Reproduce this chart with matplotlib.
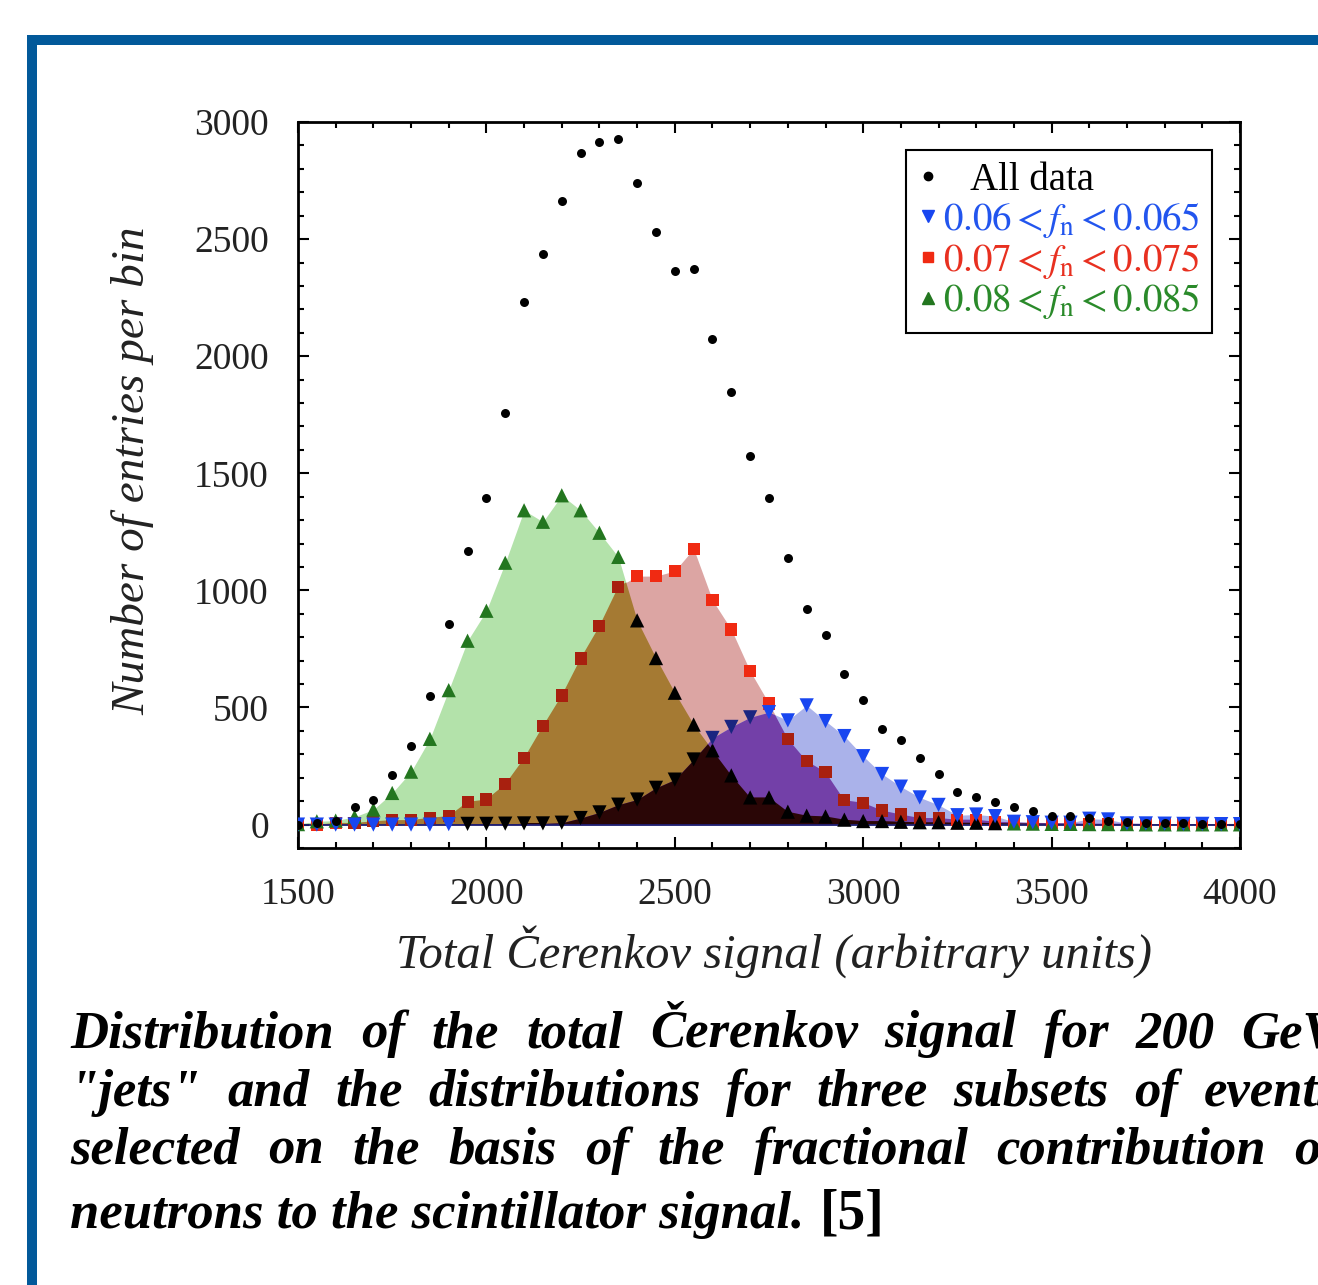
import numpy as np
import matplotlib
matplotlib.use('Agg')
import matplotlib.pyplot as plt
from matplotlib.lines import Line2D
from matplotlib.patches import Rectangle
from matplotlib.ticker import MultipleLocator

plt.rcParams['font.family'] = 'serif'
plt.rcParams['font.serif'] = ['Liberation Serif', 'DejaVu Serif']
plt.rcParams['mathtext.fontset'] = 'stix'

# bin centres of the total Cerenkov signal
signal = list(range(1500, 4001, 50))

all_data = [0, 5, 15, 73, 104, 210, 336, 547, 858, 1170,
            1393, 1759, 2232, 2436, 2664, 2866, 2913, 2926, 2739, 2531,
            2365, 2372, 2073, 1849, 1573, 1393, 1137, 922, 808, 641,
            534, 409, 360, 283, 214, 138, 118, 97, 77, 58,
            36, 36, 30, 15, 10, 8, 6, 5, 4, 3, 3]
# 0.06 < fn < 0.065
blue = [0, 0, 0, 0, 0, 0, 0, 0, 2, 3,
        3, 4, 5, 5, 8, 28, 52, 85, 107, 157,
        192, 278, 370, 417, 458, 480, 445, 509, 442, 378,
        292, 216, 162, 116, 84, 40, 43, 36, 12, 10,
        8, 8, 25, 22, 5, 5, 4, 3, 3, 2, 2]
# 0.07 < fn < 0.075
red = [3, 0, 7, 7, 14, 19, 19, 29, 36, 97,
       107, 172, 283, 420, 551, 709, 847, 1015, 1061, 1061,
       1083, 1178, 958, 833, 655, 517, 366, 271, 224, 104,
       93, 60, 43, 28, 28, 21, 21, 12, 10, 8,
       6, 5, 4, 4, 4, 3, 3, 3, 2, 2, 2]
# 0.08 < fn < 0.085
green = [2, 14, 17, 33, 64, 135, 226, 366, 574, 785,
         913, 1118, 1342, 1293, 1406, 1342, 1246, 1143, 872, 711,
         563, 427, 317, 210, 116, 116, 55, 38, 35, 21,
         15, 15, 12, 10, 10, 8, 8, 6, 5, 4,
         3, 3, 2, 2, 2, 1, 1, 1, 1, 1, 1]

labels = ['   All data',
          r'$0.06 < f_{\rm n} < 0.065$',
          r'$0.07 < f_{\rm n} < 0.075$',
          r'$0.08 < f_{\rm n} < 0.085$']

caption = ['Distribution of the total Čerenkov signal for 200 GeV',
           '"jets" and the distributions for three subsets of events',
           'selected on the basis of the fractional contribution of',
           'neutrons to the scintillator signal.']

W, H = 1318, 1285
fig = plt.figure(figsize=(W / 100, H / 100), dpi=100)
ax = fig.add_axes([298 / W, 1 - 848 / H, 942 / W, 726 / H])

x = np.array(signal)
b = np.array(blue)
r = np.array(red)
g = np.array(green)

# single fills
fg = ax.fill_between(x, 0, g, color='#b3e2aa', lw=0, zorder=1)
fr = ax.fill_between(x, 0, r, color='#dca5a3', lw=0, zorder=1)
fb = ax.fill_between(x, 0, b, color='#aab2ea', lw=0, zorder=1)
red_path = fr.get_paths()[0]
green_path = fg.get_paths()[0]

# overlaps
brown = ax.fill_between(x, 0, g, color='#a57a33', lw=0, zorder=2)
brown.set_clip_path(red_path, ax.transData)
purple = ax.fill_between(x, 0, b, color='#7340a8', lw=0, zorder=2)
purple.set_clip_path(red_path, ax.transData)
dark = ax.fill_between(x, 0, b, color='#2a0606', lw=0, zorder=3)
dark.set_clip_path(green_path, ax.transData)

ax.axhline(0, color='#1c1c70', lw=1.3, zorder=4)

# marker colours: darker where the point sits inside another fill
T = 25
red_c = ['#a8200f' if (gg > rr + T or bb > rr + T) else '#f02a12'
         for rr, gg, bb in zip(r, g, b)]
green_c = ['#000000' if (rr > gg + T or bb > gg + T) else '#23761f'
           for rr, gg, bb in zip(r, g, b)]
blue_c = []
for rr, gg, bb in zip(r, g, b):
    if rr > bb + 40:
        blue_c.append('#000000' if gg > bb + 40 else '#1a2580')
    else:
        blue_c.append('#1846f0')

ax.scatter(x, r, marker='s', s=76, c=red_c, lw=0, zorder=5)
ax.scatter(x, g, marker='^', s=105, c=green_c, lw=0, zorder=6)
ax.scatter(x, b, marker='v', s=105, c=blue_c, lw=0, zorder=7)
ax.scatter(x, all_data, marker='o', s=42, c='black', lw=0, zorder=8)

ax.set_xlim(1500, 4000)
ax.set_ylim(-100, 3000)
ax.set_xticks([1500, 2000, 2500, 3000, 3500, 4000])
ax.set_yticks([0, 500, 1000, 1500, 2000, 2500, 3000])
ax.xaxis.set_minor_locator(MultipleLocator(100))
ax.yaxis.set_minor_locator(MultipleLocator(100))
ax.tick_params(which='both', direction='in', top=True, right=True,
               width=1.5, colors='black', labelcolor='#222222')
ax.tick_params(which='major', length=8, labelsize=27, pad=21)
ax.tick_params(which='minor', length=4.5)
for sp in ax.spines.values():
    sp.set_linewidth(2)

ax.set_ylabel('Number of entries per bin', fontsize=34, style='italic',
              color='#222222')
ax.yaxis.set_label_coords(-0.152, 0.52)
ax.set_xlabel('Total Čerenkov signal (arbitrary units)', fontsize=35,
              style='italic', color='#222222')
ax.xaxis.set_label_coords(0.505, -0.106)

handles = [
    Line2D([], [], ls='', marker='o', color='black', ms=6),
    Line2D([], [], ls='', marker='v', color='#1846f0', ms=8),
    Line2D([], [], ls='', marker='s', color='#f02a12', ms=7),
    Line2D([], [], ls='', marker='^', color='#23761f', ms=8),
]
leg = ax.legend(handles, labels, loc='upper right',
                bbox_to_anchor=(0.970, 0.961), fontsize=28,
                frameon=True, fancybox=False, framealpha=1,
                edgecolor='black', handlelength=0.5, handletextpad=0.15,
                labelspacing=0.02, borderpad=0.3, borderaxespad=0)
leg.get_frame().set_linewidth(1.5)
for t, c in zip(leg.get_texts(), ['black', '#2255ee', '#e83020', '#2a8a2a']):
    t.set_color(c)

# blue frame of the slide
fig.add_artist(Rectangle((27 / W, 1 - 45 / H), 1, 10 / H,
                         transform=fig.transFigure, color='#02599a', lw=0))
fig.add_artist(Rectangle((27 / W, 0), 10 / W, 1 - 35 / H,
                         transform=fig.transFigure, color='#02599a', lw=0))

# justified caption, running past the right edge as in the slide
renderer = fig.canvas.get_renderer()
cap_kw = dict(fontsize=38, style='italic', weight='bold', va='baseline',
              ha='left', color='black')
baselines = [1047, 1106, 1164, 1228]
x0, x1 = 70, 1338
for line, yb in zip(caption[:3], baselines[:3]):
    words = line.split()
    texts = [fig.text(0, 1 - yb / H, w_, **cap_kw) for w_ in words]
    widths = [t.get_window_extent(renderer).width for t in texts]
    gap = (x1 - x0 - sum(widths)) / (len(words) - 1)
    xpos = x0
    for t, wd in zip(texts, widths):
        t.set_x(xpos / W)
        xpos += wd + gap
last = fig.text(x0 / W, 1 - baselines[3] / H, caption[3], **cap_kw)
lw_ = last.get_window_extent(renderer).width
fig.text((x0 + lw_ + 16) / W, 1 - baselines[3] / H, '[5]', fontsize=40,
         weight='bold', va='baseline', ha='left')

fig.savefig('out.png', dpi=100)
